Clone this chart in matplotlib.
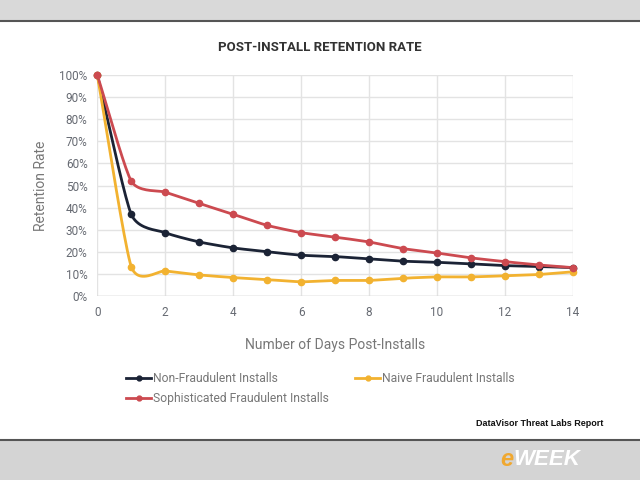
import numpy as np
import matplotlib
matplotlib.use("Agg")
import matplotlib.pyplot as plt
from matplotlib.lines import Line2D
from matplotlib.patches import Rectangle

plt.rcParams['font.family'] = ['Roboto', 'DejaVu Sans']

# Data
days = list(range(15))
non_fraud = [100, 37, 28.7, 24.5, 21.8, 20.1, 18.5, 17.9, 16.8, 15.8, 15.3, 14.6, 13.8, 13.4, 12.9]
naive_fraud = [100, 13.4, 11.4, 9.6, 8.4, 7.5, 6.5, 7.1, 7.1, 8.1, 8.7, 8.7, 9.2, 9.8, 11.0]
soph_fraud = [100, 52, 47, 41.9, 37, 32, 28.7, 26.7, 24.5, 21.5, 19.5, 17.3, 15.6, 14.1, 12.9]

series_names = ["Non-Fraudulent Installs", "Naive Fraudulent Installs",
                "Sophisticated Fraudulent Installs"]
series_colors = ["#1b2335", "#f2b230", "#cc4a50"]


# smooth curve through the points (cardinal spline, like the sheets "smooth" option)
def smooth(x, y, n=20, k=0.6):
    x = np.asarray(x, float)
    y = np.asarray(y, float)
    px = np.concatenate([[2 * x[0] - x[1]], x, [2 * x[-1] - x[-2]]])
    py = np.concatenate([[2 * y[0] - y[1]], y, [2 * y[-1] - y[-2]]])
    t = np.linspace(0, 1, n, endpoint=False)
    h00 = 2 * t ** 3 - 3 * t ** 2 + 1
    h10 = t ** 3 - 2 * t ** 2 + t
    h01 = -2 * t ** 3 + 3 * t ** 2
    h11 = t ** 3 - t ** 2
    xs, ys = [], []
    for i in range(1, len(px) - 2):
        for p, out in ((px, xs), (py, ys)):
            m1 = k * 0.5 * (p[i + 1] - p[i - 1])
            m2 = k * 0.5 * (p[i + 2] - p[i])
            out.extend(h00 * p[i] + h10 * m1 + h01 * p[i + 1] + h11 * m2)
    xs.append(x[-1])
    ys.append(y[-1])
    return np.array(xs), np.array(ys)


fig = plt.figure(figsize=(6.4, 4.8), dpi=100)
fig.patch.set_facecolor("white")

# top and bottom grey bands of the slide
fig.patches.append(Rectangle((0, 0.956), 1, 0.044, transform=fig.transFigure,
                             facecolor="#d9d9d9", edgecolor="none", zorder=0))
fig.add_artist(Line2D([0, 1], [0.956, 0.956], transform=fig.transFigure,
                      color="#555555", lw=1.5))
fig.patches.append(Rectangle((0, 0), 1, 0.083, transform=fig.transFigure,
                             facecolor="#d4d4d4", edgecolor="none", zorder=0))
fig.add_artist(Line2D([0, 1], [0.083, 0.083], transform=fig.transFigure,
                      color="#555555", lw=1.5))

ax = fig.add_axes([0.152, 0.383, 0.743, 0.461])

for vals, col in zip([non_fraud, naive_fraud, soph_fraud], series_colors):
    sx, sy = smooth(days, vals)
    ax.plot(sx, sy, color=col, lw=2, clip_on=False, zorder=3)
    ax.plot(days, vals, 'o', color=col, ms=4.5, clip_on=False, zorder=4)

ax.set_xlim(0, 14)
ax.set_ylim(0, 100)
ax.set_xticks(range(0, 15, 2))
ax.set_yticks(range(0, 101, 10))
ax.set_yticklabels([f"{v}%" for v in range(0, 101, 10)])
ax.grid(True, color="#e3e3e3", lw=1)
ax.set_axisbelow(True)
for s in ax.spines.values():
    s.set_visible(False)
ax.axhline(0, color="#cfcfcf", lw=1, zorder=1)
ax.tick_params(length=0, labelsize=8.5, labelcolor="#666a72", pad=7)

ax.set_xlabel("Number of Days Post-Installs", fontsize=10, color="#777777", labelpad=14)
ax.set_ylabel("Retention Rate", fontsize=10, color="#777777", labelpad=8)

fig.text(0.5, 0.902, "POST-INSTALL RETENTION RATE", ha="center", va="center",
         fontsize=9.5, fontweight="bold", color="#333333")

# legend: row 1 = non-fraud, naive; row 2 = sophisticated (legend fills by column)
handles = [Line2D([], [], color=c, lw=2, marker='o', ms=3.5) for c in series_colors]
leg = fig.legend([handles[0], handles[2], handles[1]],
                 [series_names[0], series_names[2], series_names[1]],
                 loc="upper left", bbox_to_anchor=(0.19, 0.235), ncol=2,
                 frameon=False, fontsize=8.7, handlelength=2, handletextpad=0.2,
                 columnspacing=2.2, labelspacing=0.6, borderaxespad=0)
for t in leg.get_texts():
    t.set_color("#777777")

fig.text(0.943, 0.117, "DataVisor Threat Labs Report", ha="right", va="center",
         fontsize=6.5, fontweight="bold", color="#111111", family=["Liberation Sans", "DejaVu Sans"])

# eWEEK logo
fig.text(0.802, 0.042, "e", ha="right", va="center", fontsize=17, fontweight="bold",
         style="italic", color="#f0a830", family=["Liberation Sans", "DejaVu Sans"])
fig.text(0.802, 0.042, "WEEK", ha="left", va="center", fontsize=16, fontweight="bold",
         style="italic", color="white", family=["Liberation Sans", "DejaVu Sans"])

fig.savefig("out.png", dpi=100)
